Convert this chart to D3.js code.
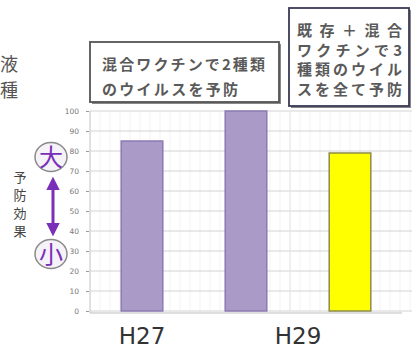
<!DOCTYPE html>
<html>
<head>
<meta charset="utf-8">
<script src="https://cdn.jsdelivr.net/npm/d3@7"></script>
<style>
  body { margin: 0; background: #fff; }
  svg { display: block; font-family: "Noto Sans CJK JP", "Noto Sans", sans-serif; }
</style>
</head>
<body>
<div id="chart"></div>
<script>
// data
const categories = ["H27", "H29a", "H29b"];
const values = [85, 100, 79];
const xLabels = ["H27", "H29"];
const box1Lines = ["混合ワクチンで2種類", "のウイルスを予防"];
const box2Lines = ["既存＋混合", "ワクチンで3", "種類のウイル", "スを全て予防"];
const sideLabel = ["予", "防", "効", "果"];

const width = 412, height = 355;

const svg = d3.select("#chart")
  .append("svg")
    .attr("width", width)
    .attr("height", height);

const x = d3.scaleBand()
  .domain(categories)
  .range([90, 402])
  .paddingInner(0.6)
  .paddingOuter(0.3);

const y = d3.scaleLinear()
  .domain([0, 100])
  .range([311, 111]);

const color = d3.scaleOrdinal()
  .domain(categories)
  .range(["#a99ac8", "#a99ac8", "#ffff00"]);
const stroke = d3.scaleOrdinal()
  .domain(categories)
  .range(["#8b7bb3", "#8b7bb3", "#8c8c4a"]);

// faint minor grid
const minor = d3.range(90, 412, 10);
svg.append("g").selectAll("line")
  .data(minor)
  .enter().append("line")
    .attr("x1", d => d).attr("x2", d => d)
    .attr("y1", y(100)).attr("y2", y(0))
    .attr("stroke", "#f3f3f3");

// major gridlines
svg.append("g").selectAll("line")
  .data(y.ticks(10))
  .enter().append("line")
    .attr("x1", 90).attr("x2", 412)
    .attr("y1", d => y(d)).attr("y2", d => y(d))
    .attr("stroke", "#d4d4d4")
    .attr("stroke-width", 1.2);

// plot frame
svg.append("line")
  .attr("x1", 90).attr("x2", 90)
  .attr("y1", y(100)).attr("y2", y(0) + 2)
  .attr("stroke", "#c8c8c8");
svg.append("line")
  .attr("x1", 290).attr("x2", 290)
  .attr("y1", y(100)).attr("y2", y(0))
  .attr("stroke", "#e6e6e6");
svg.append("line")
  .attr("x1", 90).attr("x2", 402)
  .attr("y1", y(0) + 2).attr("y2", y(0) + 2)
  .attr("stroke", "#bdbdbd");

// y axis
const yAxis = svg.append("g")
  .attr("transform", "translate(89,0)")
  .call(d3.axisLeft(y).ticks(10).tickSize(3).tickPadding(7));
yAxis.select(".domain").remove();
yAxis.selectAll(".tick line").attr("stroke", "#999");
yAxis.selectAll("text")
  .attr("fill", "#777")
  .style("font-family", "DejaVu Sans")
  .style("font-size", "7.5px");

// bars
svg.append("g").selectAll("rect")
  .data(values)
  .enter().append("rect")
    .attr("x", (d, i) => x(categories[i]))
    .attr("width", x.bandwidth())
    .attr("y", d => y(d))
    .attr("height", d => y(0) - y(d))
    .attr("fill", (d, i) => color(categories[i]))
    .attr("stroke", (d, i) => stroke(categories[i]))
    .attr("stroke-width", 1.5);

// x labels: H27 under first bar, H29 between the two H29 bars
const labelX = [
  x(categories[0]) + x.bandwidth() / 2,
  (x(categories[1]) + x(categories[2])) / 2 + x.bandwidth() / 2
];
svg.append("g").selectAll("text")
  .data(xLabels)
  .enter().append("text")
    .attr("x", (d, i) => labelX[i])
    .attr("y", 344)
    .attr("text-anchor", "middle")
    .attr("fill", "#333")
    .style("font-family", "DejaVu Sans")
    .style("font-size", "23px")
    .text(d => d);

// callout boxes
function box(bx, by, bw, bh, col) {
  svg.append("rect")
    .attr("x", bx + 2).attr("y", by + 2)
    .attr("width", bw).attr("height", bh)
    .attr("fill", "#888");
  svg.append("rect")
    .attr("x", bx).attr("y", by)
    .attr("width", bw).attr("height", bh)
    .attr("fill", "#fff")
    .attr("stroke", col)
    .attr("stroke-width", 1.8);
}
box(90, 42, 189, 60, "#555");
box(289, 8, 120, 98, "#3a3a55");

svg.append("g").selectAll("text")
  .data(box1Lines)
  .enter().append("text")
    .attr("x", 102)
    .attr("y", (d, i) => 70 + i * 25)
    .attr("textLength", (d, i) => i == 0 ? 163 : 136)
    .attr("lengthAdjust", "spacing")
    .attr("fill", "#5a5a5a")
    .style("font-size", "15px")
    .style("font-weight", "bold")
    .text(d => d);

svg.append("g").selectAll("text")
  .data(box2Lines)
  .enter().append("text")
    .attr("x", 297)
    .attr("y", (d, i) => 36 + i * 19.5)
    .attr("textLength", 105)
    .attr("lengthAdjust", "spacing")
    .attr("fill", "#5a5a5a")
    .style("font-size", "15px")
    .style("font-weight", "bold")
    .text(d => d);

// text at left edge
svg.append("text")
  .attr("x", 0).attr("y", 71)
  .attr("fill", "#555")
  .style("font-size", "18px")
  .text("液");
svg.append("text")
  .attr("x", 0).attr("y", 97)
  .attr("fill", "#555")
  .style("font-size", "18px")
  .text("種");

// side label 予防効果
svg.append("g").selectAll("text")
  .data(sideLabel)
  .enter().append("text")
    .attr("x", 20)
    .attr("y", (d, i) => 182 + i * 18)
    .attr("text-anchor", "middle")
    .attr("fill", "#444")
    .style("font-size", "13px")
    .text(d => d);

// 大 / 小 markers with double arrow
const purple = "#7a2fb8";
const defs = svg.append("defs");
defs.append("marker")
  .attr("id", "ah")
  .attr("viewBox", "0 0 10 10")
  .attr("refX", 6).attr("refY", 5)
  .attr("markerWidth", 4.5).attr("markerHeight", 4.5)
  .attr("orient", "auto-start-reverse")
  .append("path")
    .attr("d", "M0,0L10,5L0,10z")
    .attr("fill", purple);

svg.append("line")
  .attr("x1", 53).attr("x2", 53)
  .attr("y1", 182).attr("y2", 231)
  .attr("stroke", purple)
  .attr("stroke-width", 3)
  .attr("marker-start", "url(#ah)")
  .attr("marker-end", "url(#ah)");

[["大", 157], ["小", 254]].forEach(function(m) {
  svg.append("ellipse")
    .attr("cx", 51).attr("cy", m[1])
    .attr("rx", 16).attr("ry", 14.5)
    .attr("fill", "#f5f2f8")
    .attr("stroke", "#8a8a8a")
    .attr("stroke-width", 1.5);
  svg.append("text")
    .attr("x", 51).attr("y", m[1] + 9)
    .attr("text-anchor", "middle")
    .attr("fill", purple)
    .style("font-size", "24px")
    .text(m[0]);
});
</script>
</body>
</html>
